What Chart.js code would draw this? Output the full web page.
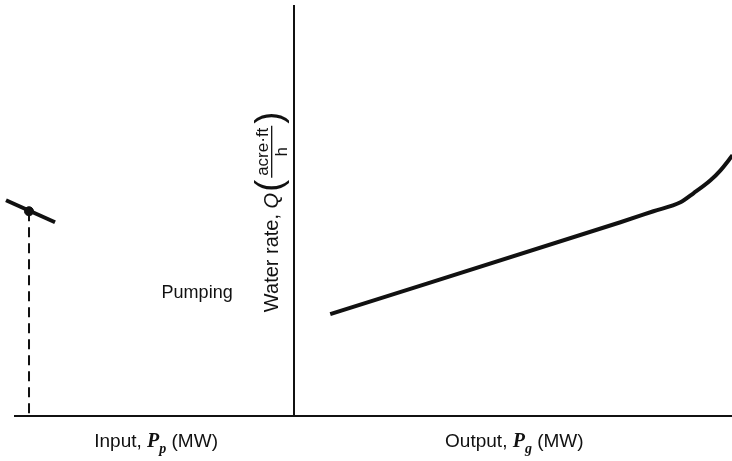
<!DOCTYPE html>
<html>
<head>
<meta charset="utf-8">
<script src="https://cdn.jsdelivr.net/npm/chart.js@4"></script>
<style>
  body { margin: 0; background: #fff; overflow: hidden; width: 732px; height: 461px; }
</style>
</head>
<body>
<canvas id="chart-water" width="738" height="461"></canvas>
<script>
// pumping branch (left of the Q axis, negative x = input power)
const pumpX = [-28.8, -23.9]
const pumpY = [21.6, 19.4]
const pumpPointX = -26.5
const pumpPointY = 20.5

// generating branch (right of the Q axis, output power)
const genX = [3.6, 32.6, 35.9, 38.6, 39.9, 41.6, 42.6, 43.8]
const genY = [10.2, 19.4, 20.5, 21.4, 22.3, 23.6, 24.6, 26.1]

const xMin = -27.9
const xMax = 43.8
const yMin = 0
const yMax = 41.1

const pumpingLabel = 'Pumping'
const inputLabel = ['Input, ', 'P', 'p', ' (MW)']
const outputLabel = ['Output, ', 'P', 'g', ' (MW)']
const yLabel = ['Water rate, ', 'Q', 'acre\u00b7ft', 'h']

const ink = '#111'
const sans = '"Liberation Sans", Arial, sans-serif'
const serif = '"Liberation Serif", serif'

function toPoints(xs, ys) {
    var pts = []
    for (var i = 0; i < xs.length; i++) {
        pts.push({ x: xs[i], y: ys[i] })
    }
    return pts
}

function drawRich(ctx, parts, x, y) {
    // parts: [text, font, dy]
    var total = 0
    for (var i = 0; i < parts.length; i++) {
        ctx.font = parts[i][1]
        total += ctx.measureText(parts[i][0]).width
    }
    var cx = x - total / 2
    for (var j = 0; j < parts.length; j++) {
        ctx.font = parts[j][1]
        ctx.fillText(parts[j][0], cx, y + parts[j][2])
        cx += ctx.measureText(parts[j][0]).width
    }
}

const labelsPlugin = {
    id: 'labels',
    beforeDraw(chart) {
        const ctx = chart.ctx
        ctx.save()
        ctx.fillStyle = '#fff'
        ctx.fillRect(0, 0, chart.width, chart.height)
        ctx.restore()
    },
    afterDraw(chart) {
        const ctx = chart.ctx
        const xs = chart.scales.x
        const ys = chart.scales.y
        ctx.save()
        ctx.fillStyle = ink
        ctx.strokeStyle = ink
        ctx.textBaseline = 'alphabetic'

        // region label
        ctx.font = '18px ' + sans
        ctx.textAlign = 'center'
        ctx.fillText(pumpingLabel, xs.getPixelForValue(-9.7), ys.getPixelForValue(11.8))

        // x axis labels
        ctx.textAlign = 'left'
        const baseY = chart.chartArea.bottom + 31
        drawRich(ctx, [
            [inputLabel[0], '19px ' + sans, 0],
            [inputLabel[1], 'italic bold 20px ' + serif, 0],
            [inputLabel[2], 'italic bold 14px ' + serif, 6],
            [inputLabel[3], '19px ' + sans, 0]
        ], xs.getPixelForValue(-13.8), baseY)
        drawRich(ctx, [
            [outputLabel[0], '19px ' + sans, 0],
            [outputLabel[1], 'italic bold 20px ' + serif, 0],
            [outputLabel[2], 'italic bold 14px ' + serif, 6],
            [outputLabel[3], '19px ' + sans, 0]
        ], xs.getPixelForValue(22.0), baseY)

        // rotated y label, reads bottom to top
        ctx.translate(xs.getPixelForValue(-1.6), ys.getPixelForValue(10.4))
        ctx.rotate(-Math.PI / 2)
        ctx.textAlign = 'left'
        var cx = 0
        ctx.font = '20px ' + sans
        ctx.fillText(yLabel[0], cx, 0)
        cx += ctx.measureText(yLabel[0]).width
        ctx.font = 'italic 20px ' + sans
        ctx.fillText(yLabel[1], cx, 0)
        cx += ctx.measureText(yLabel[1]).width + 1

        // big parentheses around the fraction
        ctx.font = '36px ' + sans
        ctx.fillText('(', cx, 3)
        cx += ctx.measureText('(').width + 4
        ctx.font = '17px ' + sans
        const numW = ctx.measureText(yLabel[2]).width
        ctx.fillText(yLabel[2], cx, -10)
        ctx.lineWidth = 1.3
        ctx.beginPath()
        ctx.moveTo(cx - 2, -6.5)
        ctx.lineTo(cx + numW + 2, -6.5)
        ctx.stroke()
        const hW = ctx.measureText(yLabel[3]).width
        ctx.fillText(yLabel[3], cx + numW / 2 - hW / 2, 9)
        cx += numW + 4
        ctx.font = '36px ' + sans
        ctx.fillText(')', cx, 3)

        ctx.restore()
    }
}

var ctx = document.getElementById('chart-water')

var data = {
    datasets: [{
        label: 'drop line',
        data: toPoints([pumpPointX, pumpPointX], [pumpPointY, yMin]),
        borderColor: ink,
        borderWidth: 2,
        borderDash: [10, 6],
        pointRadius: 0,
        showLine: true,
        clip: false,
    }, {
        label: 'pumping',
        data: toPoints(pumpX, pumpY),
        borderColor: ink,
        borderWidth: 4,
        pointRadius: 0,
        showLine: true,
        clip: false,
    }, {
        label: 'operating point',
        data: toPoints([pumpPointX], [pumpPointY]),
        backgroundColor: ink,
        borderColor: ink,
        pointRadius: 4.5,
        showLine: false,
    }, {
        label: 'generating',
        data: toPoints(genX, genY),
        borderColor: ink,
        borderWidth: 4,
        pointRadius: 0,
        showLine: true,
        cubicInterpolationMode: 'monotone',
        clip: false,
    }]
}

var waterChart = new Chart(ctx, {
    type: 'scatter',
    data: data,
    plugins: [labelsPlugin],
    options: {
        responsive: false,
        animation: false,
        devicePixelRatio: 1,
        layout: {
            padding: { left: 15, right: 0, top: 5, bottom: 45 }
        },
        plugins: {
            legend: { display: false },
            tooltip: { enabled: false }
        },
        scales: {
            x: {
                type: 'linear',
                min: xMin,
                max: xMax,
                ticks: { display: false },
                grid: { display: false, drawTicks: false },
                border: { display: true, color: ink, width: 2 }
            },
            y: {
                type: 'linear',
                min: yMin,
                max: yMax,
                position: { x: 0 },
                ticks: { display: false },
                grid: { display: false, drawTicks: false },
                border: { display: true, color: ink, width: 2 }
            }
        }
    }
})
</script>
</body>
</html>
